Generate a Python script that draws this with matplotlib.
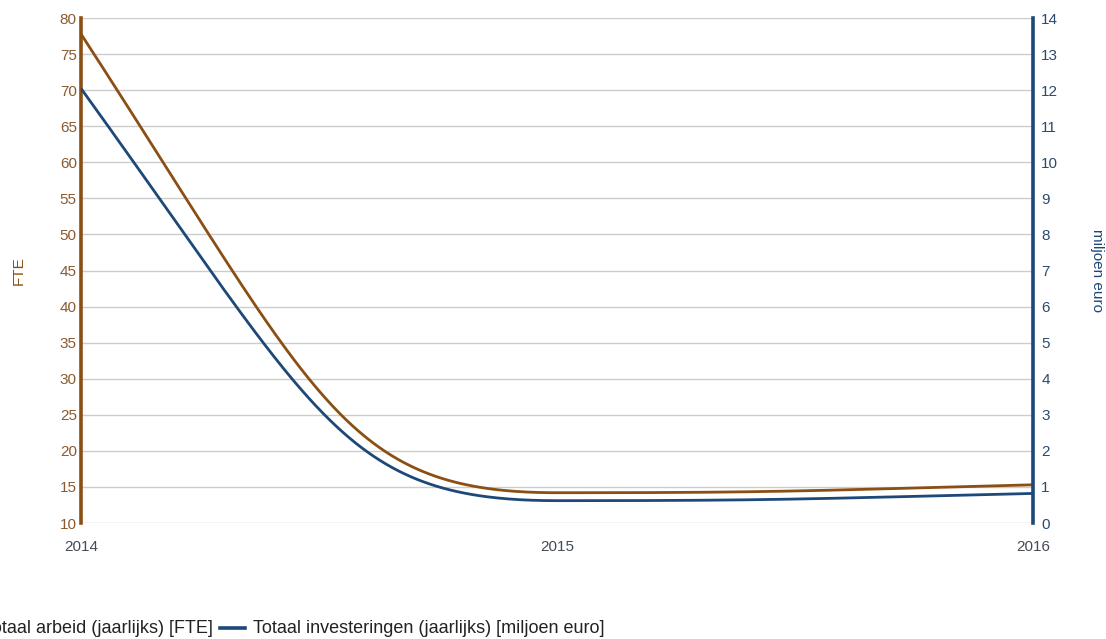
import numpy as np
import matplotlib.pyplot as plt
from matplotlib.lines import Line2D

plt.rcParams['font.family'] = ['Liberation Sans', 'DejaVu Sans']

years = [2014, 2015, 2016]
arbeid = [77.8, 14.2, 15.3]          # FTE
investeringen = [12.05, 0.62, 0.82]  # miljoen euro

brown = '#8b4f14'
blue = '#1d4877'


def bezier_curve(x, y, n=200):
    # cubic bezier per segment; flat handles at turning points
    x = np.asarray(x, float)
    y = np.asarray(y, float)
    d = np.diff(y) / np.diff(x)
    k = len(x)
    m = np.zeros(k)
    h = np.zeros(k)
    m[0], h[0] = 1.6 * d[0], 0.5
    m[-1], h[-1] = 1.6 * d[-1], 0.5
    for i in range(1, k - 1):
        if d[i - 1] * d[i] <= 0:
            m[i], h[i] = 0.0, 0.45
        else:
            m[i], h[i] = 0.5 * (d[i - 1] + d[i]), 1 / 3
    u = np.linspace(0, 1, n)[:, None]
    xs, ys = [], []
    for i in range(k - 1):
        dx = x[i + 1] - x[i]
        p0 = np.array([x[i], y[i]])
        p3 = np.array([x[i + 1], y[i + 1]])
        c1 = p0 + h[i] * dx * np.array([1, m[i]])
        c2 = p3 - h[i + 1] * dx * np.array([1, m[i + 1]])
        pts = ((1 - u)**3 * p0 + 3 * (1 - u)**2 * u * c1
               + 3 * (1 - u) * u**2 * c2 + u**3 * p3)
        xs.append(pts[:, 0])
        ys.append(pts[:, 1])
    return np.concatenate(xs), np.concatenate(ys)


fig = plt.figure(figsize=(11.06, 6.39), dpi=100)
ax = fig.add_axes([0.0732, 0.1815, 0.8608, 0.7903])
ax2 = ax.twinx()

xa, ya = bezier_curve(years, arbeid)
xb, yb = bezier_curve(years, investeringen)
ax.plot(xa, ya, color=brown, lw=2.0, solid_capstyle='butt', zorder=3)
ax2.plot(xb, yb, color=blue, lw=2.0, solid_capstyle='butt', zorder=3)

ax.set_xlim(2014, 2016)
ax.set_ylim(10, 80)
ax2.set_ylim(0, 14)
ax.set_yticks(np.arange(10, 81, 5))
ax2.set_yticks(np.arange(0, 15, 1))
ax.set_xticks(years)
ax.set_xticklabels([str(y) for y in years])

ax.grid(axis='y', color='#cccccc', lw=1.0)
ax.set_axisbelow(True)

for a in (ax, ax2):
    a.spines['top'].set_visible(False)
    a.spines['bottom'].set_visible(False)
    a.tick_params(length=0)
ax.spines['right'].set_visible(False)
ax2.spines['left'].set_visible(False)
ax.spines['left'].set_color(brown)
ax.spines['left'].set_linewidth(2.6)
ax2.spines['right'].set_color(blue)
ax2.spines['right'].set_linewidth(2.6)

ax.tick_params(axis='y', labelsize=11, labelcolor='#8b5a2e', pad=3)
ax2.tick_params(axis='y', labelsize=11, labelcolor='#2b4a70', pad=6)
ax.tick_params(axis='x', labelsize=11, labelcolor='#444b55', pad=12)

ax.set_ylabel('FTE', color=brown, fontsize=11)
ax.yaxis.set_label_coords(-0.058, 0.5)
ax2.set_ylabel('miljoen euro', color=blue, fontsize=11, rotation=270,
               va='center')
ax2.yaxis.set_label_coords(1.067, 0.5)

# legend at the bottom (first entry runs off the left edge)
fig.text(0.1926, 0.0094, 'Totaal arbeid (jaarlijks) [FTE]', fontsize=13,
         color='#222222', va='baseline', ha='right')
fig.add_artist(Line2D([0.1989, 0.2215], [0.0172, 0.0172], color=blue, lw=2.6,
                      transform=fig.transFigure))
fig.text(0.2288, 0.0094, 'Totaal investeringen (jaarlijks) [miljoen euro]',
         fontsize=13, color='#222222', va='baseline', ha='left')

fig.savefig('out.png', dpi=100)
